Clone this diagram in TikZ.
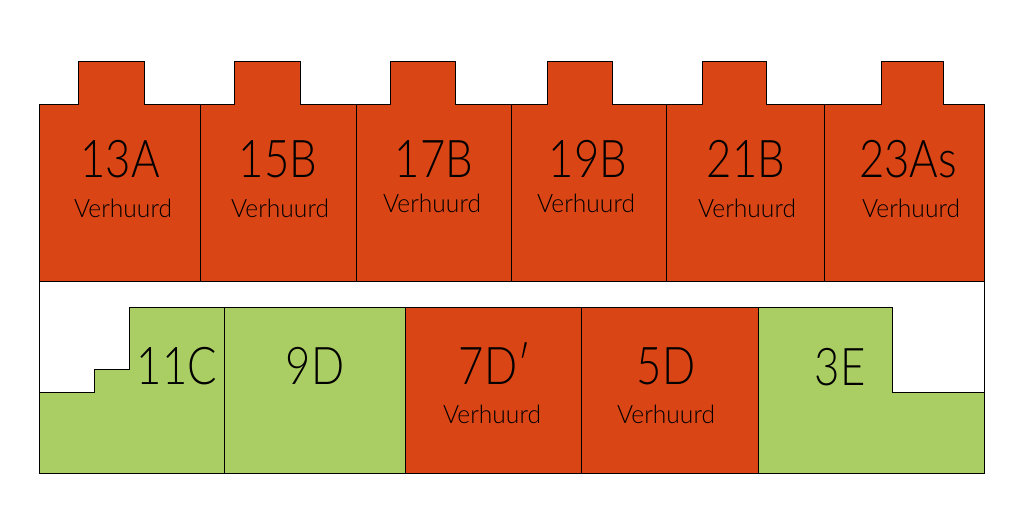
\documentclass[tikz,border=0pt]{standalone}
\usepackage{fontspec}
\setmainfont{Lato}[UprightFont=* Light]
\newfontfamily\numfont{Lato}[UprightFont=* Light, FakeStretch=0.84]
\newfontfamily\statfont{Lato}[UprightFont=* Light, FakeStretch=0.97]
\definecolor{rented}{RGB}{218,69,21}
\definecolor{free}{RGB}{170,206,100}
\tikzset{
	unitred/.style={draw=black, fill=rented, line width=0.75pt, line join=miter},
	unitgreen/.style={draw=black, fill=free, line width=0.75pt, line join=miter},
	number/.style={anchor=base, inner sep=0pt, font=\numfont\fontsize{39}{39}\selectfont},
	status/.style={anchor=base, inner sep=0pt, font=\statfont\fontsize{19}{19}\selectfont}
}

\begin{document}
\begin{tikzpicture}[x=0.75pt, y=-0.75pt]
	\useasboundingbox (0,0) rectangle (1024,516);
	% side walls
	\draw[line width=0.75pt] (39.3,281.3) -- (39.3,392.3);
	\draw[line width=0.75pt] (984.3,281.3) -- (984.3,392.3);
	% upper row
	\draw[unitred] (39.3,281.3) -- (39.3,104.3) -- (78.3,104.3) -- (78.3,61.3) -- (144.3,61.3) -- (144.3,104.3) -- (200.3,104.3) -- (200.3,281.3) -- cycle;
	\draw[unitred] (200.3,281.3) -- (200.3,104.3) -- (234.3,104.3) -- (234.3,61.3) -- (300.3,61.3) -- (300.3,104.3) -- (356.3,104.3) -- (356.3,281.3) -- cycle;
	\draw[unitred] (356.3,281.3) -- (356.3,104.3) -- (390.3,104.3) -- (390.3,61.3) -- (455.3,61.3) -- (455.3,104.3) -- (511.3,104.3) -- (511.3,281.3) -- cycle;
	\draw[unitred] (511.3,281.3) -- (511.3,104.3) -- (547.3,104.3) -- (547.3,61.3) -- (612.3,61.3) -- (612.3,104.3) -- (666.3,104.3) -- (666.3,281.3) -- cycle;
	\draw[unitred] (666.3,281.3) -- (666.3,104.3) -- (702.3,104.3) -- (702.3,61.3) -- (766.7,61.3) -- (766.7,104.3) -- (824.3,104.3) -- (824.3,281.3) -- cycle;
	\draw[unitred] (824.3,281.3) -- (824.3,104.3) -- (881.3,104.3) -- (881.3,61.3) -- (943.7,61.3) -- (943.7,104.3) -- (984.3,104.3) -- (984.3,281.3) -- cycle;
	% lower row
	\draw[unitgreen] (39.3,473) -- (39.3,392.3) -- (94.3,392.3) -- (94.3,369.3) -- (129.6,369.3) -- (129.6,307.3) -- (224.3,307.3) -- (224.3,473) -- cycle;
	\draw[unitgreen] (224.3,473) -- (224.3,307.3) -- (405.3,307.3) -- (405.3,473) -- cycle;
	\draw[unitred] (405.3,473) -- (405.3,307.3) -- (581.3,307.3) -- (581.3,473) -- cycle;
	\draw[unitred] (581.3,473) -- (581.3,307.3) -- (758.3,307.3) -- (758.3,473) -- cycle;
	\draw[unitgreen] (758.3,473) -- (758.3,307.3) -- (892.3,307.3) -- (892.3,392.3) -- (984.3,392.3) -- (984.3,473) -- cycle;
	% labels
	\node[number] (n13) at (120,178) {13A};
	\node[status] (s13) at (123,218) {Verhuurd};
	\node[number] (n15) at (278,178) {15B};
	\node[status] (s15) at (280,218) {Verhuurd};
	\node[number] (n17) at (434,178) {17B};
	\node[status] (s17) at (432,213) {Verhuurd};
	\node[number] (n19) at (588,178) {19B};
	\node[status] (s19) at (586,213) {Verhuurd};
	\node[number] (n21) at (746,178) {21B};
	\node[status] (s21) at (747,218) {Verhuurd};
	\node[number] (n23) at (908,178) {23As};
	\node[status] (s23) at (911,218) {Verhuurd};
	\node[number] (n11) at (177,384) {11C};
	\node[number] (n9) at (315,384) {9D};
	\node[number] (n7) at (495,384) {7D′};
	\node[status] (s7) at (492,423) {Verhuurd};
	\node[number] (n5) at (666,384) {5D};
	\node[status] (s5) at (666,423) {Verhuurd};
	\node[number] (n3) at (840,386) {3E};
\end{tikzpicture}
\end{document}
